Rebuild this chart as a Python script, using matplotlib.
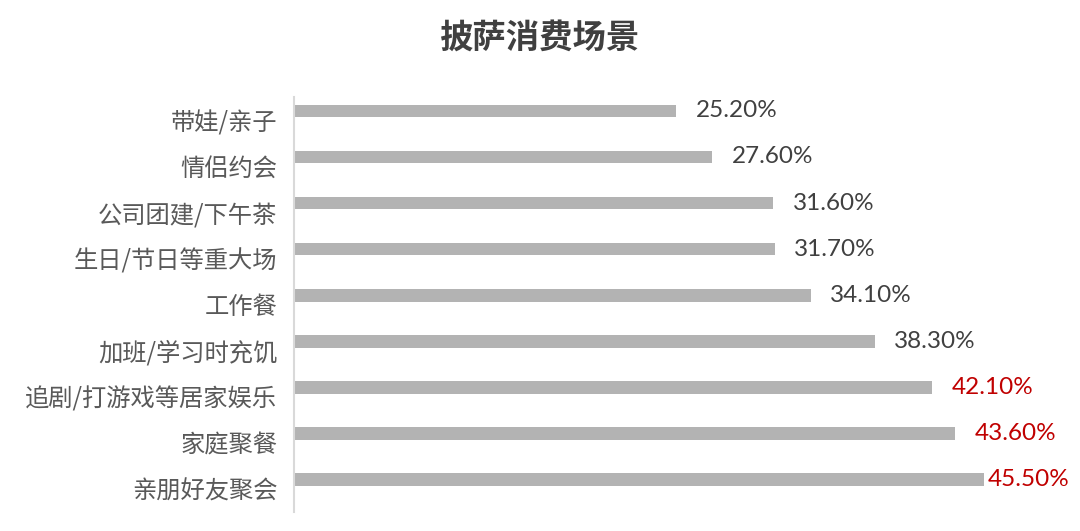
import matplotlib
matplotlib.use("Agg")
import matplotlib.pyplot as plt

plt.rcParams['font.family'] = ['Noto Sans CJK SC', 'DejaVu Sans']

title = "披萨消费场景"
categories = ["带娃/亲子", "情侣约会", "公司团建/下午茶", "生日/节日等重大场",
              "工作餐", "加班/学习时充饥", "追剧/打游戏等居家娱乐", "家庭聚餐", "亲朋好友聚会"]
values = [25.2, 27.6, 31.6, 31.7, 34.1, 38.3, 42.1, 43.6, 45.5]
highlight = [False, False, False, False, False, False, True, True, True]

fig = plt.figure(figsize=(10.8, 5.31), dpi=100)
ax = fig.add_axes([294/1080, 1-512/531, (1052-294)/1080, (512-97)/531])

n = len(categories)
pos = list(range(n))
bar_off = -0.2
ax.barh([p + bar_off for p in pos], values, height=0.27, color='#B3B3B3', zorder=2)
ax.set_xlim(0, 50)
ax.set_ylim(n - 0.5, -0.5)
ax.set_yticks(pos)
ax.set_yticklabels(categories, fontsize=17.5, color='#595959')
ax.tick_params(axis='y', length=0, pad=12)
ax.set_xticks([])
for s in ['top', 'right', 'bottom']:
    ax.spines[s].set_visible(False)
ax.spines['left'].set_color('#D9D9D9')
ax.spines['left'].set_linewidth(1.5)

for i, (v, h) in enumerate(zip(values, highlight)):
    off = 3 if i == n - 1 else 14
    ax.annotate(f"{v:.2f}%", xy=(v, i + bar_off), xytext=(off, 0), textcoords='offset points',
                ha='left', va='center', fontsize=17.5, family=['Lato', 'DejaVu Sans'],
                color='#C00000' if h else '#404040')

fig.text(540/1080, 1-38/531, title, ha='center', va='center', fontsize=24,
         fontweight='bold', color='#404040')

fig.savefig("out.png", dpi=100)
